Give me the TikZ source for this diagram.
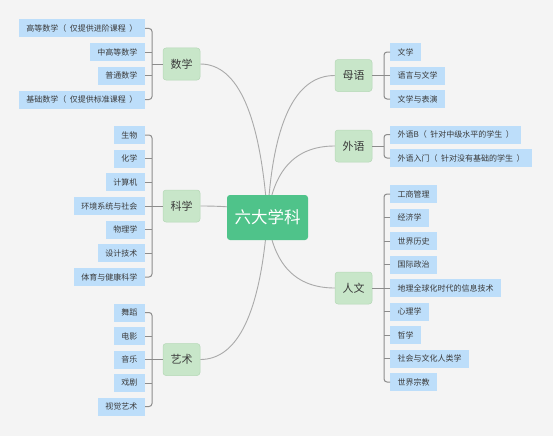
\documentclass[tikz,border=0pt]{standalone}
\usepackage{fontspec}
\setmainfont{Noto Sans CJK SC}
\usetikzlibrary{calc,backgrounds}
\definecolor{bg}{HTML}{F4F4F4}
\definecolor{rootc}{HTML}{4FC38A}
\definecolor{mainc}{HTML}{C8E6C9}
\definecolor{maind}{HTML}{B5D8B6}
\definecolor{leafc}{HTML}{BDDEFA}
\definecolor{curvec}{HTML}{AAAAAA}
\definecolor{brc}{HTML}{8C8C8C}
\definecolor{txt}{HTML}{3A3A3A}
\newcommand{\lpar}{（\hspace{3.5pt}}
\newcommand{\rpar}{\hspace{3.5pt}）}
\tikzset{
 rootbox/.style={fill=rootc, rounded corners=3pt, minimum width=81pt, minimum height=45pt, text=white, font=\fontsize{16.5}{18}\selectfont, inner sep=0pt},
 mainbox/.style={fill=mainc, draw=maind, line width=0.5pt, rounded corners=3pt, minimum width=37pt, minimum height=32pt, inner sep=0pt, text=txt, font=\fontsize{11}{13}\selectfont},
 leafbox/.style={fill=leafc, minimum height=18pt, inner xsep=7.5pt, inner ysep=0pt, text=txt, font=\fontsize{8}{10}\selectfont},
 leafL/.style={leafbox, anchor=east},
 leafR/.style={leafbox, anchor=west},
 curve/.style={draw=curvec, line width=0.9pt},
 bracket/.style={draw=brc, line width=1pt, rounded corners=3pt},
}
\begin{document}
\begin{tikzpicture}[x=1pt,y=-1pt]
\useasboundingbox (0,0) rectangle (553,436);
% root and main nodes
\node[rootbox] (root) at (267.5,217.5) {六大学科};
\node[mainbox] (shu) at (181.5,64) {数学};
\node[mainbox] (ke) at (181.5,206) {科学};
\node[mainbox] (yi) at (181.5,359.5) {艺术};
\node[mainbox] (mu) at (353.5,75.5) {母语};
\node[mainbox] (wai) at (353.5,146) {外语};
\node[mainbox] (ren) at (353.5,288) {人文};
% bracket joints
\coordinate (bshu) at (152,64);
\coordinate (bke) at (152,206);
\coordinate (byi) at (152,359.5);
\coordinate (bmu) at (384,75.5);
\coordinate (bwai) at (384,146);
\coordinate (bren) at (384,288);
% 数学 leaves
\node[leafL] (s1) at (145,28.5) {高等数学\lpar 仅提供进阶课程\rpar};
\node[leafL] (s2) at (145,52.2) {中高等数学};
\node[leafL] (s3) at (145,75.8) {普通数学};
\node[leafL] (s4) at (145,99.5) {基础数学\lpar 仅提供标准课程\rpar};
% 科学 leaves
\node[leafL] (k1) at (145,135) {生物};
\node[leafL] (k2) at (145,158.7) {化学};
\node[leafL] (k3) at (145,182.3) {计算机};
\node[leafL] (k4) at (145,206) {环境系统与社会};
\node[leafL] (k5) at (145,229.7) {物理学};
\node[leafL] (k6) at (145,253.3) {设计技术};
\node[leafL] (k7) at (145,277) {体育与健康科学};
% 艺术 leaves
\node[leafL] (y1) at (145,312.5) {舞蹈};
\node[leafL] (y2) at (145,336) {电影};
\node[leafL] (y3) at (145,359.5) {音乐};
\node[leafL] (y4) at (145,383) {戏剧};
\node[leafL] (y5) at (145,406.5) {视觉艺术};
% 母语 leaves
\node[leafR] (m1) at (390,52) {文学};
\node[leafR] (m2) at (390,75.5) {语言与文学};
\node[leafR] (m3) at (390,99) {文学与表演};
% 外语 leaves
\node[leafR] (w1) at (390,134.5) {外语B\lpar 针对中级水平的学生\rpar};
\node[leafR] (w2) at (390,158) {外语入门\lpar 针对没有基础的学生\rpar};
% 人文 leaves
\node[leafR] (r1) at (390,194) {工商管理};
\node[leafR] (r2) at (390,217.5) {经济学};
\node[leafR] (r3) at (390,241) {世界历史};
\node[leafR] (r4) at (390,264.5) {国际政治};
\node[leafR] (r5) at (390,288) {地理全球化时代的信息技术};
\node[leafR] (r6) at (390,311.5) {心理学};
\node[leafR] (r7) at (390,335) {哲学};
\node[leafR] (r8) at (390,358.5) {社会与文化人类学};
\node[leafR] (r9) at (390,382) {世界宗教};
% brackets, left side
\draw[bracket] (s1.east) -- (s1.east -| bshu) -- (s4.east -| bshu) -- (s4.east);
\foreach \n in {s2,s3} \draw[bracket] (\n.east) -- (\n.east -| bshu);
\draw[bracket] (shu.west) -- (bshu);
\draw[bracket] (k1.east) -- (k1.east -| bke) -- (k7.east -| bke) -- (k7.east);
\foreach \n in {k2,k3,k4,k5,k6} \draw[bracket] (\n.east) -- (\n.east -| bke);
\draw[bracket] (ke.west) -- (bke);
\draw[bracket] (y1.east) -- (y1.east -| byi) -- (y5.east -| byi) -- (y5.east);
\foreach \n in {y2,y3,y4} \draw[bracket] (\n.east) -- (\n.east -| byi);
\draw[bracket] (yi.west) -- (byi);
% brackets, right side
\draw[bracket] (m1.west) -- (m1.west -| bmu) -- (m3.west -| bmu) -- (m3.west);
\draw[bracket] (m2.west) -- (m2.west -| bmu);
\draw[bracket] (mu.east) -- (bmu);
\draw[bracket] (w1.west) -- (w1.west -| bwai) -- (w2.west -| bwai) -- (w2.west);
\draw[bracket] (wai.east) -- (bwai);
\draw[bracket] (r1.west) -- (r1.west -| bren) -- (r9.west -| bren) -- (r9.west);
\foreach \n in {r2,r3,r4,r5,r6,r7,r8} \draw[bracket] (\n.west) -- (\n.west -| bren);
\draw[bracket] (ren.east) -- (bren);
% curves on background
\begin{scope}[on background layer]
\fill[bg] (0,0) rectangle (553,436);
\coordinate (qshu) at (257,64);
\coordinate (qke) at (257,206);
\coordinate (qyi) at (257,359.5);
\coordinate (qmu) at (275,75.5);
\coordinate (qwai) at (276,146);
\coordinate (qren) at (276,288);
\draw[curve] (shu.east) .. controls ($(shu.east)!0.6667!(qshu)$) and ($(root.center)!0.6667!(qshu)$) .. (root.center);
\draw[curve] (ke.east) .. controls ($(ke.east)!0.6667!(qke)$) and ($(root.center)!0.6667!(qke)$) .. (root.center);
\draw[curve] (yi.east) .. controls ($(yi.east)!0.6667!(qyi)$) and ($(root.center)!0.6667!(qyi)$) .. (root.center);
\draw[curve] (mu.west) .. controls ($(mu.west)!0.6667!(qmu)$) and ($(root.center)!0.6667!(qmu)$) .. (root.center);
\draw[curve] (wai.west) .. controls ($(wai.west)!0.6667!(qwai)$) and ($(root.center)!0.6667!(qwai)$) .. (root.center);
\draw[curve] (ren.west) .. controls ($(ren.west)!0.6667!(qren)$) and ($(root.center)!0.6667!(qren)$) .. (root.center);
\end{scope}
\end{tikzpicture}
\end{document}
